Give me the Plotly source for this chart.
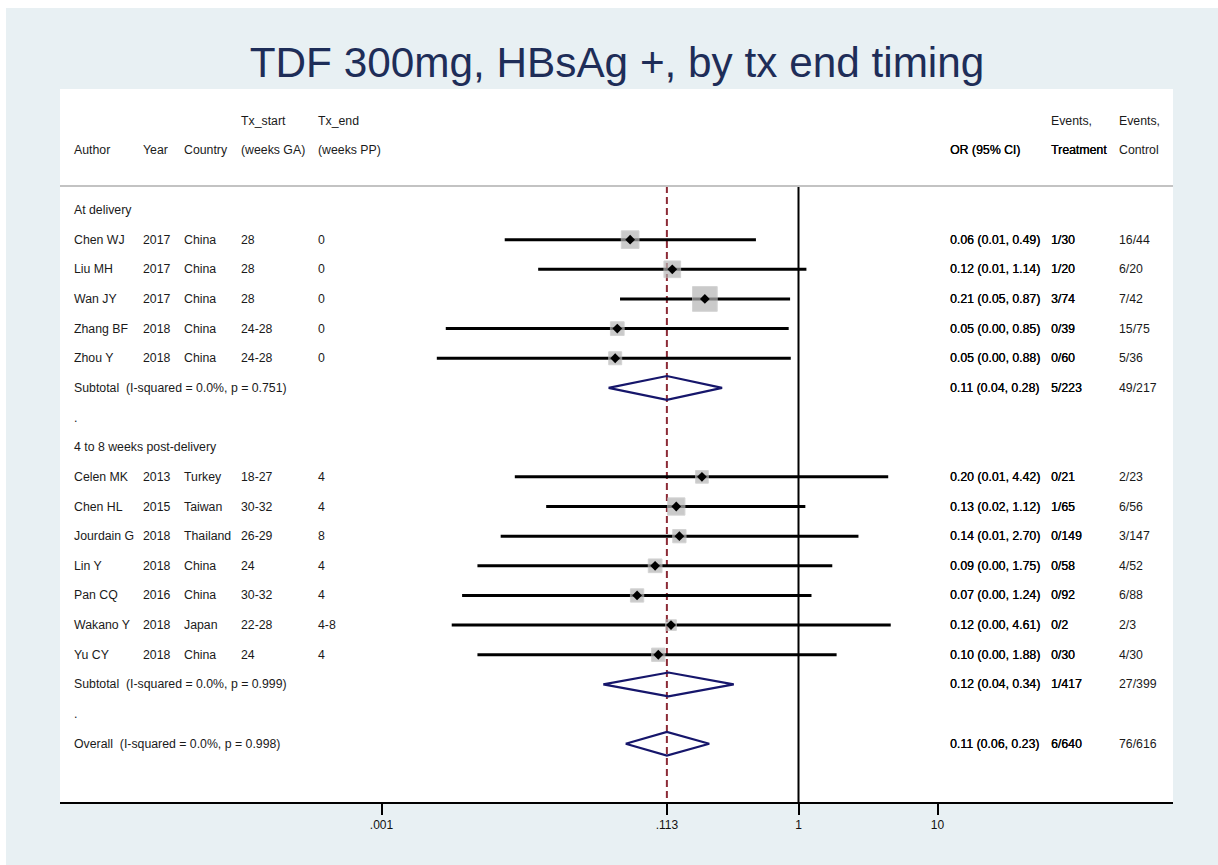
import math
import plotly.graph_objects as go

# ---- study-level data ----
authors = ["Chen WJ", "Liu MH", "Wan JY", "Zhang BF", "Zhou Y",
           "Celen MK", "Chen HL", "Jourdain G", "Lin Y", "Pan CQ", "Wakano Y", "Yu CY"]
years = [2017, 2017, 2017, 2018, 2018, 2013, 2015, 2018, 2018, 2016, 2018, 2018]
countries = ["China", "China", "China", "China", "China",
             "Turkey", "Taiwan", "Thailand", "China", "China", "Japan", "China"]
tx_start = ["28", "28", "28", "24-28", "24-28",
            "18-27", "30-32", "26-29", "24", "30-32", "22-28", "24"]
tx_end = ["0", "0", "0", "0", "0", "4", "4", "8", "4", "4", "4-8", "4"]
group_of = [0, 0, 0, 0, 0, 1, 1, 1, 1, 1, 1, 1]
group_names = ["At delivery", "4 to 8 weeks post-delivery"]

or_est = [0.0615, 0.1236, 0.212, 0.0497, 0.048, 0.202, 0.132, 0.139, 0.093, 0.069, 0.121, 0.098]
or_lo = [0.0077, 0.0134, 0.052, 0.0029, 0.0025, 0.0091, 0.0153, 0.0072, 0.0049, 0.0038, 0.0032, 0.0049]
or_hi = [0.494, 1.14, 0.87, 0.85, 0.88, 4.42, 1.12, 2.70, 1.75, 1.24, 4.61, 1.88]
weights = [10.98, 9.78, 21.39, 6.58, 5.92, 5.65, 10.49, 6.20, 6.58, 6.20, 4.01, 6.20]

ev_trt = [1, 1, 3, 0, 0, 0, 1, 0, 0, 0, 0, 0]
n_trt = [30, 20, 74, 39, 60, 21, 65, 149, 58, 92, 2, 30]
ev_ctl = [16, 6, 7, 15, 5, 2, 6, 3, 4, 6, 2, 4]
n_ctl = [44, 20, 42, 75, 36, 23, 56, 147, 52, 88, 3, 30]

# ---- pooled estimates (subgroups, then overall) ----
sub_est = [0.113, 0.116]
sub_lo = [0.043, 0.0394]
sub_hi = [0.282, 0.342]
sub_i2 = ["0.0%", "0.0%"]
sub_p = ["0.751", "0.999"]
overall_est = 0.113
overall_lo = 0.0571
overall_hi = 0.228
overall_i2 = "0.0%"
overall_p = "0.998"

axis_ticks = [0.001, 1, 10]

# ---- geometry helpers ----
W, H = 1218, 865
L_M, R_M, T_M, B_M = 60, 45, 89, 63
PLOT_W = W - L_M - R_M
PLOT_H = H - T_M - B_M
X_ONE, DECADE = 798.5, 139.0
ROW0_PX, ROW_H = 210.0, 29.65
FONT = "Liberation Sans, Arial, Helvetica, sans-serif"


def px_to_paper_x(px):
    return (px - L_M) / PLOT_W


def px_to_row(py):
    return (py - ROW0_PX) / ROW_H


x_range = [(L_M - X_ONE) / DECADE, (W - R_M - X_ONE) / DECADE]
y_range = [px_to_row(H - B_M), px_to_row(T_M)]

# assign rows: group label, studies, subtotal, spacer
row_of_study = []
group_label_rows = []
sub_rows = []
r = 0
for g in range(2):
    group_label_rows.append(r)
    r += 1
    for i in range(len(authors)):
        if group_of[i] == g:
            row_of_study.append(r)
            r += 1
    sub_rows.append(r)
    r += 2
spacer_rows = [sub_rows[0] + 1, sub_rows[1] + 1]
overall_row = sub_rows[1] + 2
sep_row = px_to_row(186)

fig = go.Figure()

# reference lines: no effect (OR = 1) and pooled overall estimate
fig.add_trace(go.Scatter(x=[1, 1], y=[sep_row, y_range[0]], mode="lines",
                         line=dict(color="black", width=2), hoverinfo="skip"))
fig.add_trace(go.Scatter(x=[overall_est, overall_est], y=[sep_row, y_range[0]],
                         mode="lines",
                         line=dict(color="#8c2a36", width=2, dash="7px,4px"),
                         hoverinfo="skip"))

# confidence interval lines
ci_x, ci_y = [], []
for lo, hi, rr in zip(or_lo, or_hi, row_of_study):
    ci_x += [lo, hi, None]
    ci_y += [rr, rr, None]
fig.add_trace(go.Scatter(x=ci_x, y=ci_y, mode="lines",
                         line=dict(color="black", width=3), hoverinfo="skip"))

# weight boxes
box_sizes = [5.34 * w ** 0.5 for w in weights]
fig.add_trace(go.Scatter(x=or_est, y=row_of_study, mode="markers",
                         marker=dict(symbol="square", size=box_sizes, color="#b4b4b4",
                                     line=dict(width=1, color="#c2c2c2")),
                         hoverinfo="skip"))
# point estimates
fig.add_trace(go.Scatter(x=or_est, y=row_of_study, mode="markers",
                         marker=dict(symbol="diamond", size=7.5, color="black"),
                         hoverinfo="skip"))

# pooled diamonds
HALF = 0.4
for est, lo, hi, rr in list(zip(sub_est, sub_lo, sub_hi, sub_rows)) + [
        (overall_est, overall_lo, overall_hi, overall_row)]:
    fig.add_trace(go.Scatter(x=[lo, est, hi, est, lo],
                             y=[rr, rr - HALF, rr, rr + HALF, rr],
                             mode="lines", line=dict(color="#16166b", width=2.2),
                             hoverinfo="skip"))

shapes = [
    # thin white frame along the top and left edges
    dict(type="rect", xref="paper", yref="paper",
         x0=-L_M / PLOT_W, x1=1 + R_M / PLOT_W,
         y0=1 + (T_M - 8) / PLOT_H, y1=1 + T_M / PLOT_H,
         fillcolor="white", line=dict(width=0), layer="below"),
    dict(type="rect", xref="paper", yref="paper",
         x0=-L_M / PLOT_W, x1=-(L_M - 6) / PLOT_W,
         y0=-B_M / PLOT_H, y1=1 + T_M / PLOT_H,
         fillcolor="white", line=dict(width=0), layer="below"),
    # header separator
    dict(type="line", xref="paper", yref="y", x0=0, x1=1, y0=sep_row, y1=sep_row,
         line=dict(color="#c3c3c3", width=2)),
]

# ---- text columns ----
COL = dict(author=72, year=141, country=182, start=239, end=316,
           orci=948, trt=1049, ctl=1117)
FS = 12.3
annotations = []


def txt(col_px, row, s, heavy=False):
    annotations.append(dict(
        x=px_to_paper_x(col_px), xref="paper", y=row, yref="y",
        text=s, showarrow=False, xanchor="left", yanchor="middle",
        font=dict(family=FONT, size=FS,
                  color="#000000" if heavy else "#1a1a1a",
                  shadow="0.25px 0 0 #000000" if heavy else "none")))


# headers
txt(COL["start"], px_to_row(121), "Tx_start")
txt(COL["end"], px_to_row(121), "Tx_end")
txt(COL["trt"], px_to_row(121), "Events,")
txt(COL["ctl"], px_to_row(121), "Events,")
hr = px_to_row(150)
txt(COL["author"], hr, "Author")
txt(COL["year"], hr, "Year")
txt(COL["country"], hr, "Country")
txt(COL["start"], hr, "(weeks GA)")
txt(COL["end"], hr, "(weeks PP)")
txt(COL["orci"], hr, "OR (95% CI)", heavy=True)
txt(COL["trt"], hr, "Treatment", heavy=True)
txt(COL["ctl"], hr, "Control")


def fmt_ci(e, lo, hi):
    return f"{e:.2f} ({lo:.2f}, {hi:.2f})"


for i, rr in enumerate(row_of_study):
    txt(COL["author"], rr, authors[i])
    txt(COL["year"], rr, str(years[i]))
    txt(COL["country"], rr, countries[i])
    txt(COL["start"], rr, tx_start[i])
    txt(COL["end"], rr, tx_end[i])
    txt(COL["orci"], rr, fmt_ci(or_est[i], or_lo[i], or_hi[i]), heavy=True)
    txt(COL["trt"], rr, f"{ev_trt[i]}/{n_trt[i]}", heavy=True)
    txt(COL["ctl"], rr, f"{ev_ctl[i]}/{n_ctl[i]}")

for g in range(2):
    idx = [i for i in range(len(authors)) if group_of[i] == g]
    txt(COL["author"], group_label_rows[g], group_names[g])
    txt(COL["author"], sub_rows[g],
        f"Subtotal  (I-squared = {sub_i2[g]}, p = {sub_p[g]})")
    txt(COL["orci"], sub_rows[g], fmt_ci(sub_est[g], sub_lo[g], sub_hi[g]), heavy=True)
    txt(COL["trt"], sub_rows[g],
        f"{sum(ev_trt[i] for i in idx)}/{sum(n_trt[i] for i in idx)}", heavy=True)
    txt(COL["ctl"], sub_rows[g],
        f"{sum(ev_ctl[i] for i in idx)}/{sum(n_ctl[i] for i in idx)}")
    txt(COL["author"], spacer_rows[g], ".")

txt(COL["author"], overall_row,
    f"Overall  (I-squared = {overall_i2}, p = {overall_p})")
txt(COL["orci"], overall_row, fmt_ci(overall_est, overall_lo, overall_hi), heavy=True)
txt(COL["trt"], overall_row, f"{sum(ev_trt)}/{sum(n_trt)}", heavy=True)
txt(COL["ctl"], overall_row, f"{sum(ev_ctl)}/{sum(n_ctl)}")

tick_vals = sorted(axis_ticks + [overall_est])
tick_text = []
for v in tick_vals:
    if v >= 1:
        tick_text.append(f"{v:g}")
    else:
        tick_text.append(f"{v:.3f}".rstrip("0").lstrip("0"))

fig.update_layout(
    width=W, height=H,
    margin=dict(l=L_M, r=R_M, t=T_M, b=B_M, pad=0),
    paper_bgcolor="#e8f0f3", plot_bgcolor="white",
    showlegend=False,
    title=dict(text="TDF 300mg, HBsAg +, by tx end timing",
               x=px_to_paper_x(617), xref="paper", xanchor="center",
               y=1 - 62 / H, yref="container", yanchor="middle",
               font=dict(family=FONT, size=42.3, color="#1e2d58")),
    xaxis=dict(type="log", range=x_range, showgrid=False, zeroline=False,
               showline=True, linecolor="black", linewidth=2,
               ticks="outside", ticklen=11, tickwidth=2, tickcolor="black",
               tickvals=tick_vals, ticktext=tick_text,
               tickfont=dict(family=FONT, size=12, color="#111111"),
               fixedrange=True),
    yaxis=dict(range=y_range, showgrid=False, zeroline=False, showline=False,
               showticklabels=False, ticks="", fixedrange=True),
    shapes=shapes,
    annotations=annotations,
)

fig.write_html("out.html")
